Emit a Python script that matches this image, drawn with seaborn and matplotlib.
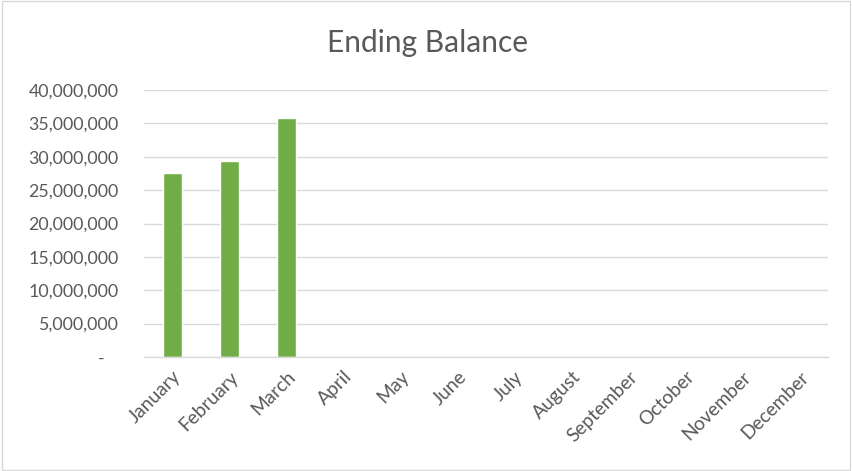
import matplotlib
matplotlib.use("Agg")
import matplotlib.pyplot as plt
import seaborn as sns
import pandas as pd
from matplotlib.ticker import FuncFormatter, MultipleLocator
from matplotlib.patches import Rectangle

months = ["January", "February", "March", "April", "May", "June", "July",
          "August", "September", "October", "November", "December"]
balances = [27540000, 29430000, 35820000, 0, 0, 0, 0, 0, 0, 0, 0, 0]
title = "Ending Balance"

df = pd.DataFrame({"Month": months, "Balance": balances})

sns.set_theme(style="white")
plt.rcParams['font.family'] = ['Lato', 'DejaVu Sans']

fig = plt.figure(figsize=(8.53, 4.71), dpi=100)
ax = fig.add_axes([144/853, 114/471, 684/853, 267/471])

sns.barplot(data=df, x="Month", y="Balance", color="#70ad47", width=0.32,
            saturation=1, ax=ax)

ax.set_ylim(0, 40000000)
ax.set_xlim(-0.5, 11.5)
ax.yaxis.set_major_locator(MultipleLocator(5000000))
ax.yaxis.set_major_formatter(FuncFormatter(lambda v, p: "-   " if v == 0 else f"{int(v):,}"))
ax.grid(axis="y", color="#d9d9d9", linewidth=1)
ax.set_axisbelow(True)
for s in ["left", "right", "top"]:
    ax.spines[s].set_visible(False)
ax.spines["bottom"].set_color("#d9d9d9")
ax.spines["bottom"].set_linewidth(1)
ax.tick_params(axis="both", length=0, colors="#595959")
ax.tick_params(axis="y", pad=18.5, labelsize=12.8)
ax.tick_params(axis="x", pad=8, labelsize=13.8)
plt.setp(ax.get_xticklabels(), rotation=45, ha="right", rotation_mode="anchor")
ax.set_xlabel("")
ax.set_ylabel("")

fig.text(428/853, 1 - 43/471, title, ha="center", va="center", fontsize=21.5, color="#595959")
fig.patches.append(Rectangle((0.002, 0.003), 0.995, 0.994, transform=fig.transFigure,
                             fill=False, edgecolor="#d9d9d9", linewidth=1))

fig.savefig("out.png", dpi=100)
